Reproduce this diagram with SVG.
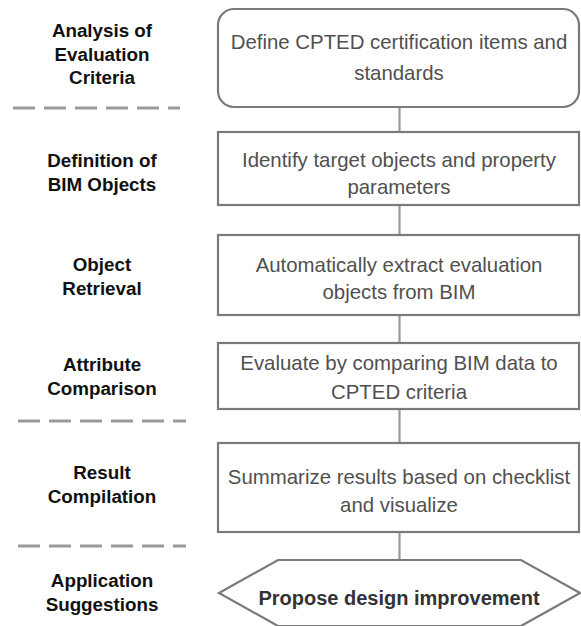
<svg xmlns="http://www.w3.org/2000/svg" width="581" height="626" viewBox="0 0 581 626">
<style>
.lbl{font-family:"Liberation Sans",Arial,sans-serif;font-weight:bold;font-size:18.8px;fill:#111;text-anchor:middle}
.txt{font-family:"Liberation Sans",Arial,sans-serif;font-size:20.4px;fill:#505050;text-anchor:middle}
.bold{font-family:"Liberation Sans",Arial,sans-serif;font-weight:bold;font-size:20px;fill:#333;text-anchor:middle}
.box{fill:#fff;stroke:#7a7a7a;stroke-width:2.2}
.sep{stroke:#999;stroke-width:3;stroke-dasharray:22 9;fill:none}
.conn{stroke:#999;stroke-width:2.2;fill:none}
</style>
<rect width="581" height="626" fill="#fff"/>
<g id="separators">
<line class="sep" x1="13" y1="108" x2="180" y2="108"/>
<line class="sep" x1="18" y1="421" x2="186" y2="421"/>
<line class="sep" x1="18" y1="546" x2="186" y2="546"/>
</g>
<g id="connectors">
<line class="conn" x1="399.5" y1="107" x2="399.5" y2="132"/>
<line class="conn" x1="399.5" y1="205" x2="399.5" y2="235"/>
<line class="conn" x1="399.5" y1="315" x2="399.5" y2="343"/>
<line class="conn" x1="399.5" y1="409" x2="399.5" y2="443"/>
<line class="conn" x1="399.5" y1="532" x2="399.5" y2="560"/>
</g>
<g id="label1"><text class="lbl" x="102" y="37">Analysis of</text><text class="lbl" x="102" y="61">Evaluation</text><text class="lbl" x="102" y="84">Criteria</text></g>
<g id="label2"><text class="lbl" x="102" y="167">Definition of</text><text class="lbl" x="102" y="191">BIM Objects</text></g>
<g id="label3"><text class="lbl" x="102" y="271">Object</text><text class="lbl" x="102" y="295">Retrieval</text></g>
<g id="label4"><text class="lbl" x="102" y="371">Attribute</text><text class="lbl" x="102" y="395">Comparison</text></g>
<g id="label5"><text class="lbl" x="102" y="479">Result</text><text class="lbl" x="102" y="503">Compilation</text></g>
<g id="label6"><text class="lbl" x="102" y="587">Application</text><text class="lbl" x="102" y="611">Suggestions</text></g>
<g id="step1"><rect class="box" x="218" y="9" width="361" height="98" rx="16"/><text class="txt" x="399" y="49">Define CPTED certification items and</text><text class="txt" x="399" y="80">standards</text></g>
<g id="step2"><rect class="box" x="218" y="132" width="361" height="73"/><text class="txt" x="399" y="167">Identify target objects and property</text><text class="txt" x="399" y="194">parameters</text></g>
<g id="step3"><rect class="box" x="218" y="235" width="361" height="80"/><text class="txt" x="399" y="272">Automatically extract evaluation</text><text class="txt" x="399" y="299">objects from BIM</text></g>
<g id="step4"><rect class="box" x="218" y="343" width="361" height="66"/><text class="txt" x="399" y="370">Evaluate by comparing BIM data to</text><text class="txt" x="399" y="399">CPTED criteria</text></g>
<g id="step5"><rect class="box" x="218" y="443" width="361" height="89"/><text class="txt" x="399" y="484">Summarize results based on checklist</text><text class="txt" x="399" y="512">and visualize</text></g>
<g id="step6"><polygon class="box" points="219,593 278,560 521,560 580,593 521,626 278,626"/><text class="bold" x="399" y="605">Propose design improvement</text></g>
</svg>
